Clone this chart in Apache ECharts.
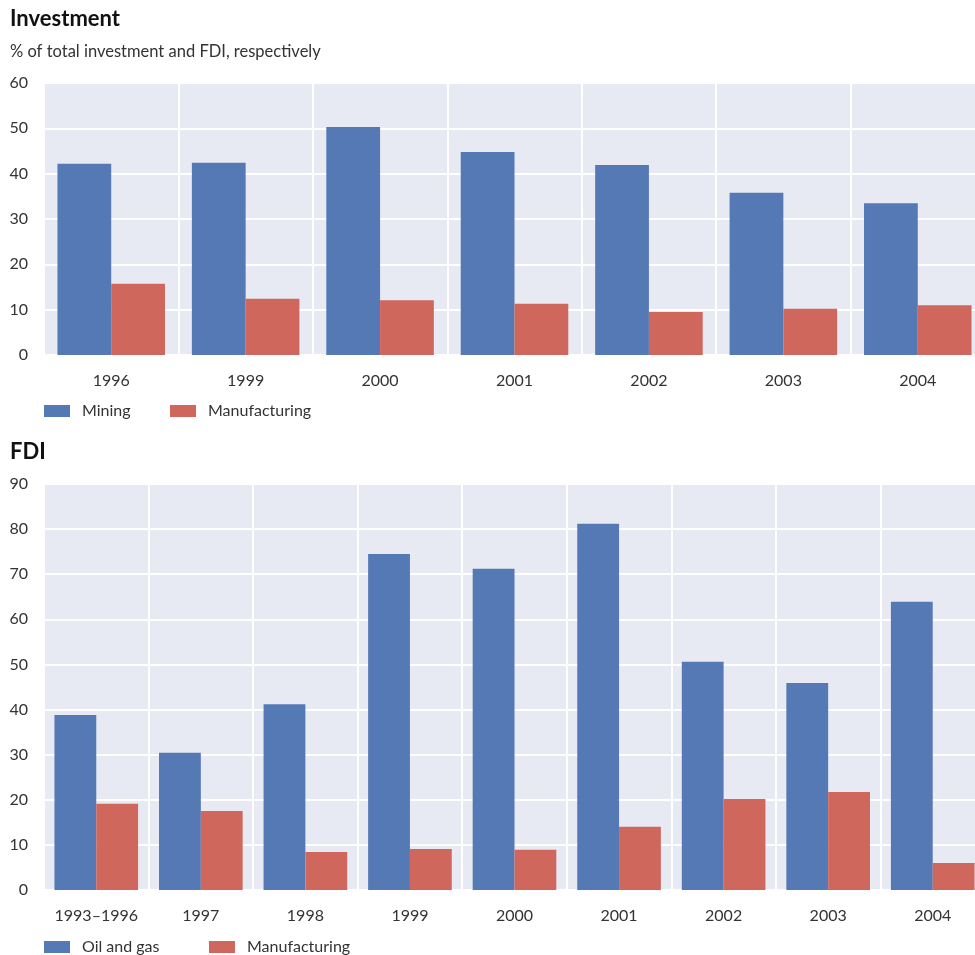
<!DOCTYPE html>
<html>
<head>
<meta charset="utf-8">
<script src="https://cdn.jsdelivr.net/npm/echarts@6/dist/echarts.min.js"></script>
<style>
html,body{margin:0;padding:0;background:#fff;overflow:hidden;width:975px;height:955px;}
#c{width:986px;height:955px;}
</style>
</head>
<body>
<div id="c"></div>
<script>
// Investment panel
const invCategories = ['1996','1999','2000','2001','2002','2003','2004'];
const invMining = [42.2, 42.4, 50.3, 44.8, 41.9, 35.8, 33.5];
const invManufacturing = [15.7, 12.4, 12.1, 11.3, 9.5, 10.2, 11.0];
const invTicks = [0, 10, 20, 30, 40, 50, 60];

// FDI panel
const fdiCategories = ['1993\u20131996','1997','1998','1999','2000','2001','2002','2003','2004'];
const fdiOilGas = [38.8, 30.4, 41.2, 74.5, 71.2, 81.2, 50.6, 45.9, 63.9];
const fdiManufacturing = [19.1, 17.5, 8.4, 9.1, 8.9, 14.0, 20.2, 21.7, 6.0];
const fdiTicks = [0, 10, 20, 30, 40, 50, 60, 70, 80, 90];

const BLUE = '#5579B4';
const RED = '#CF675D';
const BG = '#E8EAF3';
const FONT = 'Lato, "Open Sans", sans-serif';
const TXT = '#333333';

const chart = echarts.init(document.getElementById('c'));

function yAxis(gridIndex, ticks){
  return {
    type: 'value', gridIndex: gridIndex,
    min: ticks[0], max: ticks[ticks.length-1], interval: ticks[1]-ticks[0],
    axisLine: {show:false}, axisTick: {show:false},
    axisLabel: {color: TXT, fontSize: 16, fontFamily: FONT, margin: 16},
    splitLine: {show:true, lineStyle:{color:'#ffffff', width:2}}
  };
}
function xAxis(gridIndex, cats){
  return {
    type: 'category', gridIndex: gridIndex, data: cats,
    axisLine: {show:false}, axisTick: {show:false},
    axisLabel: {color: TXT, fontSize: 16, fontFamily: FONT, margin: 18, interval: 0},
    splitLine: {show:true, interval: 0, lineStyle:{color:'#ffffff', width:2}}
  };
}
function legend(name, left, top, color){
  return {
    data: [{name: name, itemStyle:{color: color}}],
    left: left, top: top, icon: 'rect', itemWidth: 26, itemHeight: 12,
    padding: 0,
    textStyle: {color: TXT, fontSize: 16, fontFamily: FONT, padding: [0,0,0,7]}
  };
}

chart.setOption({
  animation: false,
  title: [
    {text: 'Investment', left: 10, top: 8, padding: 0,
     textStyle:{fontSize: 22, fontWeight: 'bold', color: '#111', fontFamily: FONT}},
    {text: '% of total investment and FDI, respectively', left: 10, top: 43, padding: 0,
     textStyle:{fontSize: 16.5, fontWeight: 'normal', color: TXT, fontFamily: FONT}},
    {text: 'FDI', left: 10, top: 441, padding: 0,
     textStyle:{fontSize: 22, fontWeight: 'bold', color: '#111', fontFamily: FONT}}
  ],
  legend: [
    legend('Mining', 44, 403, BLUE),
    legend('Manufacturing', 170, 403, RED),
    legend('Oil and gas', 44, 939, BLUE),
    legend('Manufacturing', 209, 939, RED)
  ],
  grid: [
    {left: 44, width: 941, top: 83, height: 272, show: true, backgroundColor: BG, borderWidth: 0},
    {left: 44, width: 941, top: 484, height: 406, show: true, backgroundColor: BG, borderWidth: 0}
  ],
  xAxis: [xAxis(0, invCategories), xAxis(1, fdiCategories)],
  yAxis: [yAxis(0, invTicks), yAxis(1, fdiTicks)],
  series: [
    {name: 'Mining', type: 'bar', xAxisIndex: 0, yAxisIndex: 0, data: invMining,
     itemStyle:{color: BLUE}, barGap: '0%', barCategoryGap: '20%'},
    {name: 'Manufacturing', type: 'bar', xAxisIndex: 0, yAxisIndex: 0, data: invManufacturing,
     itemStyle:{color: RED}, barGap: '0%', barCategoryGap: '20%'},
    {name: 'Oil and gas', type: 'bar', xAxisIndex: 1, yAxisIndex: 1, data: fdiOilGas,
     itemStyle:{color: BLUE}, barGap: '0%', barCategoryGap: '20%'},
    {name: 'Manufacturing', type: 'bar', xAxisIndex: 1, yAxisIndex: 1, data: fdiManufacturing,
     itemStyle:{color: RED}, barGap: '0%', barCategoryGap: '20%'}
  ]
});
</script>
</body>
</html>
